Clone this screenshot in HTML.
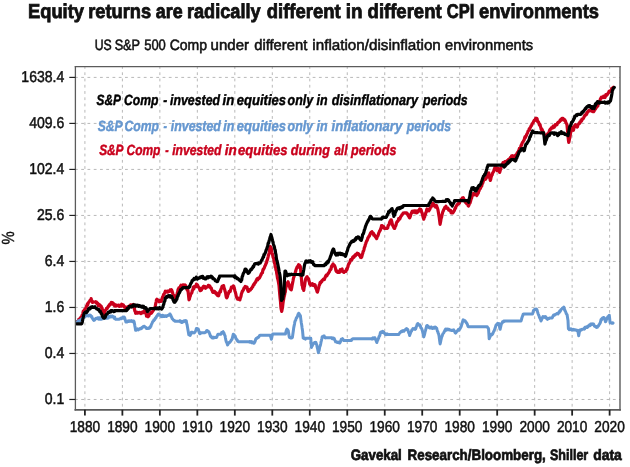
<!DOCTYPE html><html><head><meta charset="utf-8"><style>
html,body{margin:0;padding:0;background:#fff;width:630px;height:467px;overflow:hidden}
svg{display:block;font-family:"Liberation Sans",sans-serif;will-change:transform;text-rendering:geometricPrecision}
</style></head><body>
<svg width="630" height="467" viewBox="0 0 630 467">
<g font-size="20" fill="#111" stroke="#111" stroke-width="0.8" font-weight="bold"><text id="title0" x="27.98" y="18" textLength="56.02" lengthAdjust="spacingAndGlyphs">Equity</text><text id="title1" x="88.18" y="18" textLength="62.85" lengthAdjust="spacingAndGlyphs">returns</text><text id="title2" x="155.76" y="18" textLength="26.84" lengthAdjust="spacingAndGlyphs">are</text><text id="title3" x="186.98" y="18" textLength="73.65" lengthAdjust="spacingAndGlyphs">radically</text><text id="title4" x="266.78" y="18" textLength="73.86" lengthAdjust="spacingAndGlyphs">different</text><text id="title5" x="345.71" y="18" textLength="16.75" lengthAdjust="spacingAndGlyphs">in</text><text id="title6" x="367.58" y="18" textLength="74.02" lengthAdjust="spacingAndGlyphs">different</text><text id="title7" x="446.74" y="18" textLength="27.49" lengthAdjust="spacingAndGlyphs">CPI</text><text id="title8" x="479.00" y="18" textLength="120.00" lengthAdjust="spacingAndGlyphs">environments</text></g>
<g font-size="15.0" fill="#111" stroke="#111" stroke-width="0.55"><text id="sub0" x="94.71" y="50" textLength="17.00" lengthAdjust="spacingAndGlyphs">US</text><text id="sub1" x="114.65" y="50" textLength="25.44" lengthAdjust="spacingAndGlyphs">S&amp;P</text><text id="sub2" x="144.15" y="50" textLength="21.71" lengthAdjust="spacingAndGlyphs">500</text><text id="sub3" x="169.71" y="50" textLength="37.36" lengthAdjust="spacingAndGlyphs">Comp</text><text id="sub4" x="210.58" y="50" textLength="38.44" lengthAdjust="spacingAndGlyphs">under</text><text id="sub5" x="254.19" y="50" textLength="53.05" lengthAdjust="spacingAndGlyphs">different</text><text id="sub6" x="312.39" y="50" textLength="128.43" lengthAdjust="spacingAndGlyphs">inflation/disinflation</text><text id="sub7" x="444.97" y="50" textLength="88.25" lengthAdjust="spacingAndGlyphs">environments</text></g>
<g stroke="#b8b8b8" stroke-width="1.0" stroke-dasharray="2.8 3.455">
<g stroke-dashoffset="0.43"><line x1="75.4" y1="77.40" x2="620.0" y2="77.40"/><line x1="75.4" y1="123.41" x2="620.0" y2="123.41"/><line x1="75.4" y1="169.42" x2="620.0" y2="169.42"/><line x1="75.4" y1="215.43" x2="620.0" y2="215.43"/><line x1="75.4" y1="261.44" x2="620.0" y2="261.44"/><line x1="75.4" y1="307.45" x2="620.0" y2="307.45"/><line x1="75.4" y1="353.46" x2="620.0" y2="353.46"/><line x1="75.4" y1="399.47" x2="620.0" y2="399.47"/></g>
<g stroke-dashoffset="0.55"><line x1="84.90" y1="66.6" x2="84.90" y2="409.8"/><line x1="122.38" y1="66.6" x2="122.38" y2="409.8"/><line x1="159.86" y1="66.6" x2="159.86" y2="409.8"/><line x1="197.34" y1="66.6" x2="197.34" y2="409.8"/><line x1="234.82" y1="66.6" x2="234.82" y2="409.8"/><line x1="272.30" y1="66.6" x2="272.30" y2="409.8"/><line x1="309.78" y1="66.6" x2="309.78" y2="409.8"/><line x1="347.26" y1="66.6" x2="347.26" y2="409.8"/><line x1="384.74" y1="66.6" x2="384.74" y2="409.8"/><line x1="422.22" y1="66.6" x2="422.22" y2="409.8"/><line x1="459.70" y1="66.6" x2="459.70" y2="409.8"/><line x1="497.18" y1="66.6" x2="497.18" y2="409.8"/><line x1="534.66" y1="66.6" x2="534.66" y2="409.8"/><line x1="572.14" y1="66.6" x2="572.14" y2="409.8"/><line x1="609.62" y1="66.6" x2="609.62" y2="409.8"/></g>
</g>
<g font-size="14.8" fill="#000" stroke="#000" stroke-width="0.45" font-weight="bold" font-style="italic"><text id="legk0" x="96.58" y="105" textLength="24.28" lengthAdjust="spacingAndGlyphs">S&amp;P</text><text id="legk1" x="123.96" y="105" textLength="34.47" lengthAdjust="spacingAndGlyphs">Comp</text><text id="legk2" x="163.36" y="105" textLength="3.95" lengthAdjust="spacingAndGlyphs">-</text><text id="legk3" x="170.00" y="105" textLength="50.03" lengthAdjust="spacingAndGlyphs">invested</text><text id="legk4" x="222.56" y="105" textLength="11.74" lengthAdjust="spacingAndGlyphs">in</text><text id="legk5" x="236.76" y="105" textLength="49.29" lengthAdjust="spacingAndGlyphs">equities</text><text id="legk6" x="287.60" y="105" textLength="40.00" lengthAdjust="spacingAndGlyphs">only in</text><text id="legk7" x="331.79" y="105" textLength="86.22" lengthAdjust="spacingAndGlyphs">disinflationary</text><text id="legk8" x="422.98" y="105" textLength="44.64" lengthAdjust="spacingAndGlyphs">periods</text></g>
<g font-size="14.8" fill="#6597d0" stroke="#6597d0" stroke-width="0.45" font-weight="bold" font-style="italic"><text id="legb0" x="97.75" y="131" textLength="24.82" lengthAdjust="spacingAndGlyphs">S&amp;P</text><text id="legb1" x="124.52" y="131" textLength="34.42" lengthAdjust="spacingAndGlyphs">Comp</text><text id="legb2" x="163.49" y="131" textLength="3.49" lengthAdjust="spacingAndGlyphs">-</text><text id="legb3" x="170.84" y="131" textLength="50.03" lengthAdjust="spacingAndGlyphs">invested</text><text id="legb4" x="223.28" y="131" textLength="11.06" lengthAdjust="spacingAndGlyphs">in</text><text id="legb5" x="236.69" y="131" textLength="49.34" lengthAdjust="spacingAndGlyphs">equities</text><text id="legb6" x="287.58" y="131" textLength="39.86" lengthAdjust="spacingAndGlyphs">only in</text><text id="legb7" x="331.58" y="131" textLength="70.65" lengthAdjust="spacingAndGlyphs">inflationary</text><text id="legb8" x="406.75" y="131" textLength="44.25" lengthAdjust="spacingAndGlyphs">periods</text></g>
<g font-size="14.8" fill="#c9001c" stroke="#c9001c" stroke-width="0.45" font-weight="bold" font-style="italic"><text id="legr0" x="99.14" y="155" textLength="24.42" lengthAdjust="spacingAndGlyphs">S&amp;P</text><text id="legr1" x="126.51" y="155" textLength="33.94" lengthAdjust="spacingAndGlyphs">Comp</text><text id="legr2" x="165.15" y="155" textLength="3.43" lengthAdjust="spacingAndGlyphs">-</text><text id="legr3" x="172.17" y="155" textLength="49.29" lengthAdjust="spacingAndGlyphs">invested</text><text id="legr4" x="224.72" y="155" textLength="11.99" lengthAdjust="spacingAndGlyphs">in</text><text id="legr5" x="237.99" y="155" textLength="49.65" lengthAdjust="spacingAndGlyphs">equities</text><text id="legr6" x="290.78" y="155" textLength="39.25" lengthAdjust="spacingAndGlyphs">during</text><text id="legr7" x="334.15" y="155" textLength="13.34" lengthAdjust="spacingAndGlyphs">all</text><text id="legr8" x="350.99" y="155" textLength="45.42" lengthAdjust="spacingAndGlyphs">periods</text></g>
<g fill="none" stroke-linejoin="round" stroke-linecap="round">
<polyline stroke="#c9001c" stroke-width="3.2" points="76.60,322.50 76.96,323.41 77.32,321.39 77.69,321.59 78.05,321.08 78.41,321.08 78.78,319.48 79.14,319.65 79.50,319.50 79.87,318.62 80.23,317.98 80.60,317.64 80.97,317.35 81.33,317.01 81.70,316.70 82.08,315.25 82.47,315.03 82.85,313.55 83.23,311.14 83.62,312.60 84.00,311.00 84.37,310.15 84.73,309.32 85.10,309.25 85.47,308.59 85.83,307.86 86.20,307.20 86.58,305.98 86.97,305.81 87.35,304.10 87.73,304.99 88.12,302.75 88.50,302.70 88.88,302.05 89.26,301.63 89.64,301.20 90.02,300.40 90.40,300.00 90.77,300.55 91.14,298.57 91.51,300.73 91.89,300.98 92.26,301.12 92.63,302.48 93.00,302.00 93.37,302.00 93.73,302.00 94.10,302.00 94.47,302.00 94.83,302.00 95.20,302.00 95.58,301.72 95.97,302.55 96.35,301.81 96.73,303.41 97.12,302.70 97.50,304.00 97.88,303.34 98.25,305.78 98.62,305.14 99.00,305.02 99.38,305.40 99.75,304.78 100.12,305.27 100.50,306.20 100.87,307.00 101.23,306.22 101.60,308.18 101.97,307.70 102.33,309.36 102.70,310.00 103.08,310.43 103.45,313.15 103.83,313.87 104.20,314.50 104.58,313.01 104.95,311.12 105.33,310.61 105.70,310.00 106.08,309.40 106.47,308.37 106.85,308.59 107.23,308.48 107.62,307.40 108.00,307.00 108.37,306.19 108.73,306.36 109.10,305.26 109.47,305.40 109.83,304.25 110.20,304.00 110.56,304.53 110.92,303.17 111.28,302.44 111.64,302.78 112.00,302.50 112.37,302.56 112.74,302.88 113.11,303.81 113.49,304.79 113.86,303.65 114.23,305.32 114.60,305.90 114.96,305.70 115.32,305.66 115.67,306.15 116.03,304.93 116.39,305.99 116.75,305.45 117.11,305.60 117.47,305.38 117.83,305.27 118.18,305.12 118.54,305.61 118.90,305.40 119.26,306.46 119.62,305.83 119.98,305.66 120.33,305.45 120.69,304.82 121.05,305.38 121.41,306.15 121.77,304.23 122.12,305.36 122.48,305.41 122.84,304.95 123.20,304.80 123.56,305.54 123.91,306.24 124.27,307.05 124.62,306.90 124.98,307.46 125.33,307.07 125.69,307.71 126.04,307.70 126.40,308.00 126.76,307.89 127.11,307.24 127.47,307.64 127.82,307.84 128.18,306.71 128.53,306.71 128.89,306.68 129.24,306.11 129.60,305.90 129.96,306.25 130.32,305.73 130.68,304.80 131.04,304.74 131.40,305.58 131.76,305.39 132.12,305.51 132.48,304.90 132.84,304.73 133.20,304.50 133.60,305.07 134.00,308.19 134.40,308.37 134.80,310.92 135.20,311.18 135.60,313.30 136.00,312.78 136.40,313.10 136.80,312.65 137.20,312.36 137.60,313.11 138.00,312.50 138.36,312.95 138.71,312.88 139.07,312.56 139.42,312.38 139.78,312.66 140.13,312.73 140.49,313.09 140.84,313.62 141.20,313.30 141.56,312.93 141.91,312.32 142.27,312.15 142.62,312.93 142.98,312.05 143.33,311.82 143.69,311.58 144.04,311.49 144.40,310.90 144.76,311.59 145.11,312.79 145.47,313.21 145.82,311.82 146.18,313.93 146.53,316.26 146.89,314.54 147.24,315.94 147.60,316.50 148.00,316.69 148.40,315.70 148.80,316.04 149.20,314.20 149.60,313.81 150.00,314.10 150.36,313.65 150.71,313.00 151.07,312.48 151.43,313.04 151.79,312.53 152.14,312.05 152.50,311.70 152.90,310.81 153.30,310.51 153.70,309.63 154.10,308.63 154.50,308.65 154.90,307.70 155.30,305.90 155.70,303.74 156.10,302.08 156.50,299.70 156.90,299.22 157.30,299.89 157.70,299.81 158.10,300.97 158.50,300.65 158.90,300.50 159.30,301.80 159.70,301.63 160.10,300.70 160.50,300.43 160.90,301.43 161.30,301.30 161.70,299.94 162.10,298.81 162.50,297.12 162.90,296.83 163.30,295.40 163.70,294.10 164.10,293.92 164.50,293.47 164.90,292.40 165.30,291.27 165.70,291.95 166.10,291.70 166.46,291.26 166.81,291.23 167.17,291.96 167.52,291.29 167.88,292.09 168.23,291.27 168.59,291.46 168.94,291.27 169.30,290.90 169.70,291.21 170.10,289.94 170.50,291.10 170.90,290.43 171.30,289.70 171.70,290.10 172.10,291.50 172.50,292.42 172.90,294.01 173.30,294.77 173.70,295.63 174.10,296.50 174.50,295.74 174.90,297.69 175.30,297.72 175.70,297.46 176.10,297.42 176.50,297.30 176.90,295.97 177.30,292.82 177.70,291.69 178.10,289.30 178.46,288.95 178.81,288.02 179.17,288.40 179.52,288.03 179.88,288.40 180.23,287.62 180.59,285.85 180.94,285.29 181.30,286.00 181.66,285.88 182.03,285.74 182.39,285.27 182.75,284.91 183.12,285.53 183.48,284.93 183.85,285.11 184.21,285.89 184.57,285.48 184.94,284.86 185.30,285.20 185.69,285.37 186.07,286.67 186.46,288.51 186.84,288.06 187.23,290.08 187.61,289.48 188.00,290.70 188.50,295.13 189.00,299.80 189.42,298.96 189.84,296.93 190.26,296.17 190.68,294.17 191.10,293.70 191.49,293.18 191.88,292.56 192.26,290.68 192.65,290.25 193.04,289.04 193.42,287.19 193.81,289.00 194.20,286.60 194.57,286.70 194.95,286.55 195.32,286.06 195.70,285.70 196.07,286.65 196.45,284.10 196.82,284.68 197.20,284.60 197.59,285.13 197.97,286.01 198.36,287.27 198.75,287.25 199.14,287.68 199.53,288.55 199.91,290.19 200.30,290.70 200.68,290.71 201.05,290.12 201.43,290.04 201.80,288.36 202.18,288.68 202.55,288.00 202.93,287.02 203.30,286.60 203.69,286.31 204.08,287.33 204.46,286.60 204.85,286.94 205.24,286.69 205.62,288.31 206.01,287.45 206.40,287.60 206.78,287.07 207.15,286.96 207.53,286.72 207.90,286.65 208.28,285.41 208.65,285.46 209.03,286.13 209.40,285.60 209.79,286.96 210.18,286.57 210.56,287.95 210.95,288.33 211.34,288.16 211.72,290.00 212.11,290.34 212.50,291.70 212.88,292.30 213.25,291.83 213.62,292.05 214.00,291.39 214.38,292.40 214.75,291.38 215.12,292.69 215.50,292.70 215.89,293.84 216.28,292.81 216.66,294.33 217.05,295.02 217.44,294.53 217.82,295.64 218.21,295.46 218.60,295.80 218.97,294.50 219.35,292.64 219.72,292.13 220.10,290.88 220.47,291.98 220.85,289.79 221.22,288.53 221.60,287.60 222.00,286.46 222.40,287.75 222.80,285.76 223.20,286.82 223.60,285.60 223.99,287.72 224.38,288.69 224.76,289.81 225.15,291.67 225.54,292.49 225.92,295.11 226.31,297.20 226.70,297.80 227.10,297.27 227.50,296.34 227.90,294.35 228.30,293.89 228.70,292.70 229.09,291.50 229.47,291.18 229.86,291.19 230.25,291.53 230.64,289.55 231.03,288.89 231.41,287.19 231.80,287.60 232.20,287.50 232.60,286.70 233.00,286.23 233.40,285.98 233.80,286.60 234.19,288.08 234.58,289.18 234.96,291.17 235.35,292.07 235.74,293.60 236.12,295.81 236.51,296.84 236.90,297.80 237.28,298.47 237.65,299.11 238.03,298.67 238.40,298.25 238.78,298.61 239.15,298.44 239.53,299.74 239.90,299.80 240.28,298.18 240.67,297.28 241.05,296.06 241.43,293.75 241.82,292.90 242.20,291.40 242.58,291.48 242.97,290.21 243.35,290.06 243.73,288.82 244.12,287.79 244.50,287.70 244.87,287.44 245.23,286.39 245.60,287.69 245.97,286.88 246.33,287.78 246.70,286.90 247.07,287.34 247.45,289.22 247.82,290.46 248.20,291.40 248.58,291.04 248.97,291.11 249.35,290.23 249.73,289.81 250.12,289.37 250.50,289.90 250.87,289.09 251.23,288.45 251.60,288.53 251.97,287.70 252.33,287.03 252.70,286.90 253.08,285.88 253.47,284.61 253.85,284.85 254.23,284.66 254.62,283.08 255.00,283.20 255.37,282.31 255.73,282.07 256.10,280.56 256.47,280.31 256.83,279.21 257.20,278.70 257.58,279.93 257.97,279.21 258.35,278.96 258.73,277.79 259.12,278.39 259.50,277.90 259.87,277.06 260.23,276.60 260.60,275.33 260.97,274.99 261.33,273.72 261.70,273.40 262.08,272.70 262.47,272.65 262.85,270.04 263.23,269.20 263.62,269.35 264.00,268.20 264.37,267.78 264.73,266.26 265.10,265.93 265.47,264.97 265.83,264.17 266.20,263.00 266.57,262.64 266.95,260.39 267.32,259.99 267.70,258.50 268.07,257.11 268.45,255.12 268.82,254.28 269.20,252.50 269.60,249.77 270.00,247.67 270.40,246.50 270.77,248.10 271.13,247.88 271.50,249.50 271.88,252.32 272.25,253.83 272.62,254.83 273.00,257.00 273.38,258.01 273.75,258.75 274.12,261.46 274.50,263.00 274.87,263.82 275.23,267.34 275.60,267.26 275.97,269.97 276.33,270.14 276.70,273.40 277.08,275.20 277.47,278.14 277.85,279.15 278.23,280.94 278.62,283.13 279.00,285.40 279.38,290.03 279.76,294.74 280.14,298.52 280.52,301.93 280.90,307.50 281.30,309.67 281.70,311.50 282.10,309.42 282.50,307.54 282.90,303.72 283.30,301.00 283.70,299.09 284.10,296.69 284.50,295.42 284.90,293.00 285.30,291.99 285.70,288.44 286.10,287.04 286.50,285.00 286.90,283.61 287.30,283.01 287.70,282.49 288.10,281.80 288.50,283.47 288.90,284.13 289.30,285.83 289.70,287.40 290.10,288.77 290.50,288.88 290.90,289.59 291.30,289.80 291.72,287.74 292.14,285.13 292.56,283.19 292.98,280.97 293.40,278.40 293.77,277.18 294.14,276.55 294.51,274.76 294.89,274.05 295.26,272.34 295.63,271.52 296.00,269.90 296.37,268.77 296.74,268.10 297.11,267.02 297.49,267.60 297.86,266.47 298.23,265.56 298.60,264.70 299.03,265.47 299.45,265.08 299.88,266.03 300.30,266.40 300.73,270.84 301.15,274.80 301.57,280.42 302.00,285.30 302.43,286.08 302.85,288.65 303.27,288.70 303.70,290.40 304.12,287.47 304.55,285.80 304.97,282.67 305.40,280.10 305.82,278.50 306.25,278.53 306.68,277.12 307.10,276.70 307.46,278.52 307.82,277.82 308.18,278.86 308.54,278.59 308.90,281.00 309.32,281.69 309.75,284.20 310.18,284.15 310.60,285.30 311.03,284.33 311.45,284.61 311.88,283.86 312.30,283.60 312.67,283.82 313.04,285.48 313.41,285.46 313.79,285.47 314.16,285.75 314.53,284.54 314.90,285.30 315.26,285.17 315.61,287.66 315.97,288.43 316.33,289.21 316.69,290.09 317.04,291.53 317.40,292.10 317.77,291.07 318.14,289.56 318.51,288.35 318.89,286.61 319.26,285.17 319.63,284.83 320.00,282.70 320.37,282.19 320.74,283.08 321.11,281.95 321.49,281.25 321.86,281.47 322.23,280.19 322.60,280.10 322.96,279.63 323.31,279.19 323.67,279.03 324.03,279.05 324.39,279.48 324.74,278.25 325.10,277.60 325.47,276.50 325.84,276.13 326.21,275.08 326.59,276.01 326.96,275.59 327.33,274.79 327.70,274.10 328.07,273.70 328.44,273.20 328.81,272.54 329.19,272.06 329.56,271.23 329.93,269.94 330.30,269.90 330.65,269.68 331.00,269.15 331.35,266.73 331.70,266.77 332.05,265.51 332.40,265.68 332.75,264.49 333.10,263.90 333.50,265.23 333.90,265.57 334.30,265.21 334.70,266.00 335.10,267.08 335.50,268.37 335.90,270.37 336.30,271.40 336.66,270.98 337.01,271.87 337.37,270.94 337.72,272.43 338.08,272.22 338.43,271.41 338.79,271.73 339.14,272.37 339.50,272.40 339.87,272.02 340.23,269.72 340.60,270.91 340.97,271.12 341.33,269.48 341.70,269.20 342.05,268.97 342.40,270.95 342.75,270.93 343.10,271.44 343.45,272.21 343.80,272.40 344.22,271.51 344.64,271.62 345.06,271.16 345.48,270.96 345.90,271.40 346.27,270.32 346.63,269.00 347.00,269.60 347.37,268.08 347.73,267.36 348.10,266.00 348.46,264.23 348.83,264.20 349.19,263.40 349.55,262.74 349.91,262.06 350.27,260.52 350.64,259.62 351.00,259.30 351.38,259.46 351.76,259.81 352.13,259.33 352.51,257.63 352.89,256.97 353.27,257.14 353.64,256.92 354.02,257.27 354.40,255.90 354.75,255.51 355.10,254.96 355.45,255.70 355.80,254.45 356.15,254.11 356.50,254.64 356.85,253.97 357.20,253.22 357.55,253.41 357.90,253.30 358.28,253.54 358.66,254.13 359.03,254.31 359.41,255.53 359.79,255.49 360.17,255.83 360.54,257.24 360.92,256.60 361.30,257.60 361.67,256.92 362.04,255.73 362.41,254.13 362.79,253.32 363.16,251.26 363.53,251.14 363.90,249.90 364.26,248.09 364.61,246.96 364.97,246.36 365.33,244.57 365.69,243.83 366.04,242.76 366.40,241.30 366.77,241.14 367.14,240.03 367.51,239.65 367.89,237.90 368.26,237.38 368.63,237.20 369.00,236.10 369.37,236.16 369.74,235.15 370.11,234.00 370.49,233.10 370.86,232.56 371.23,233.12 371.60,231.90 371.96,231.71 372.31,232.48 372.67,233.32 373.03,233.57 373.39,233.29 373.74,235.15 374.10,234.40 374.47,235.10 374.84,235.78 375.21,236.69 375.59,236.68 375.96,237.86 376.33,238.00 376.70,238.70 377.07,237.23 377.44,236.22 377.81,235.99 378.19,234.87 378.56,233.75 378.93,232.61 379.30,231.90 379.67,230.90 380.04,230.63 380.41,229.94 380.79,228.33 381.16,227.76 381.53,225.72 381.90,225.90 382.26,225.62 382.61,226.22 382.97,226.46 383.33,227.71 383.69,226.52 384.04,228.31 384.40,228.40 384.77,228.40 385.14,228.40 385.51,228.40 385.89,228.40 386.26,228.40 386.63,228.40 387.00,228.40 387.37,227.92 387.74,227.91 388.11,225.55 388.49,225.22 388.86,224.93 389.23,223.78 389.60,222.40 390.03,221.25 390.45,220.95 390.88,219.88 391.30,219.90 391.73,221.44 392.15,223.28 392.57,225.15 393.00,225.90 393.43,226.83 393.85,227.64 394.27,228.36 394.70,228.40 395.12,226.67 395.55,226.22 395.97,225.11 396.40,223.30 396.77,222.58 397.14,221.54 397.51,221.54 397.89,220.93 398.26,220.61 398.63,218.62 399.00,219.00 399.37,218.31 399.74,219.15 400.11,218.26 400.49,216.97 400.86,216.41 401.23,215.94 401.60,215.60 401.98,214.60 402.37,214.41 402.75,214.18 403.13,213.07 403.52,213.22 403.90,212.80 404.28,212.80 404.66,212.80 405.04,212.80 405.42,212.80 405.80,212.80 406.18,213.33 406.56,212.85 406.94,213.69 407.32,213.46 407.70,214.70 408.08,215.36 408.46,216.10 408.84,216.33 409.22,217.30 409.60,217.90 410.00,217.18 410.40,216.24 410.80,214.10 411.20,213.64 411.60,212.80 411.96,211.72 412.31,211.18 412.67,212.51 413.03,212.08 413.39,212.07 413.74,211.51 414.10,210.80 414.47,210.81 414.84,211.49 415.21,211.36 415.59,212.69 415.96,210.93 416.33,212.74 416.70,212.80 417.07,212.04 417.44,212.28 417.81,212.09 418.19,210.62 418.56,211.27 418.93,210.66 419.30,209.60 419.68,208.85 420.06,210.85 420.44,209.31 420.82,209.33 421.20,210.20 421.63,212.22 422.07,212.80 422.50,214.70 422.93,216.32 423.37,217.67 423.80,219.20 424.23,217.14 424.67,217.08 425.10,214.70 425.48,214.36 425.86,212.42 426.24,212.09 426.62,210.06 427.00,208.90 427.38,209.42 427.76,209.49 428.14,209.31 428.52,210.23 428.90,210.80 429.28,209.51 429.66,209.51 430.04,208.60 430.42,207.44 430.80,207.00 431.20,206.93 431.60,205.65 432.00,205.67 432.40,203.66 432.80,203.10 433.18,203.53 433.56,203.97 433.94,205.15 434.32,205.57 434.70,206.30 435.08,206.20 435.46,207.03 435.84,206.38 436.22,205.48 436.60,205.70 437.03,207.22 437.47,208.16 437.90,209.60 438.33,212.00 438.77,214.62 439.20,217.30 439.65,220.84 440.10,224.30 440.60,221.76 441.10,218.50 441.53,217.36 441.97,215.12 442.40,213.40 442.83,211.69 443.27,210.87 443.70,209.60 444.08,208.98 444.46,208.41 444.84,207.37 445.22,207.45 445.60,207.00 445.98,206.26 446.36,208.22 446.74,208.19 447.12,208.45 447.50,208.30 447.90,208.17 448.30,209.19 448.70,210.15 449.10,209.70 449.50,210.20 449.88,210.13 450.26,211.18 450.64,210.51 451.02,212.80 451.40,212.80 451.78,212.90 452.16,211.76 452.54,212.77 452.92,212.87 453.30,212.10 453.68,211.64 454.06,210.83 454.44,210.49 454.82,208.94 455.20,208.00 455.55,208.25 455.90,206.84 456.25,206.05 456.60,205.72 456.95,204.80 457.30,205.07 457.65,203.94 458.00,203.80 458.38,203.53 458.75,203.03 459.12,203.27 459.50,202.88 459.88,201.12 460.25,200.86 460.62,200.38 461.00,200.00 461.38,199.11 461.75,199.90 462.12,199.03 462.50,197.80 462.88,198.06 463.25,197.79 463.62,198.57 464.00,199.30 464.38,199.93 464.77,201.40 465.15,200.44 465.53,202.57 465.92,201.60 466.30,203.00 466.67,203.69 467.03,203.36 467.40,204.27 467.77,203.68 468.13,205.83 468.50,206.00 468.88,205.27 469.25,203.93 469.62,202.58 470.00,203.00 470.38,201.71 470.77,200.49 471.15,198.45 471.53,198.27 471.92,196.68 472.30,195.50 472.67,194.62 473.03,194.56 473.40,193.39 473.77,194.90 474.13,194.79 474.50,194.00 474.88,194.14 475.27,193.80 475.65,194.12 476.03,194.83 476.42,194.76 476.80,195.50 477.17,194.90 477.53,193.51 477.90,193.74 478.27,193.15 478.63,191.42 479.00,191.00 479.38,189.80 479.77,187.87 480.15,188.76 480.53,188.20 480.92,186.72 481.30,186.50 481.67,186.11 482.03,184.12 482.40,182.84 482.77,182.95 483.13,181.75 483.50,180.50 483.88,179.11 484.27,179.61 484.65,179.03 485.03,179.37 485.42,179.34 485.80,179.00 486.18,177.99 486.55,177.58 486.93,177.24 487.30,176.00 487.68,175.06 488.05,173.79 488.43,173.20 488.80,173.00 489.18,175.33 489.55,177.69 489.93,178.52 490.30,180.50 490.68,179.40 491.05,177.45 491.43,176.27 491.80,175.30 492.17,174.94 492.53,173.24 492.90,172.74 493.27,171.83 493.63,171.51 494.00,170.00 494.43,168.89 494.87,167.49 495.30,166.30 495.68,167.05 496.05,167.85 496.43,169.63 496.80,170.00 497.20,170.67 497.60,168.12 498.00,168.50 498.43,170.03 498.85,169.90 499.27,171.08 499.70,172.40 500.12,170.80 500.55,169.30 500.97,167.91 501.40,166.70 501.85,165.01 502.30,164.00 502.67,164.73 503.03,162.69 503.40,162.88 503.77,162.57 504.13,162.85 504.50,162.50 504.88,161.53 505.27,161.98 505.65,161.81 506.03,162.56 506.42,161.60 506.80,161.00 507.18,160.68 507.55,160.50 507.93,161.18 508.30,159.83 508.68,159.24 509.05,159.00 509.43,158.87 509.80,158.80 510.17,158.78 510.53,157.24 510.90,156.97 511.27,156.78 511.63,155.78 512.00,155.80 512.37,156.23 512.73,155.73 513.10,156.30 513.47,156.38 513.83,157.00 514.20,157.21 514.57,155.86 514.93,155.69 515.30,156.50 515.67,155.19 516.03,155.42 516.40,154.78 516.77,153.82 517.13,153.14 517.50,152.50 517.88,152.66 518.27,151.65 518.65,150.62 519.03,150.17 519.42,148.34 519.80,148.50 520.17,148.31 520.53,147.96 520.90,146.07 521.27,144.92 521.63,145.01 522.00,143.50 522.38,142.56 522.77,142.21 523.15,141.83 523.53,140.74 523.92,140.55 524.30,139.50 524.67,137.69 525.03,136.66 525.40,137.65 525.77,136.79 526.13,135.87 526.50,135.00 526.88,133.95 527.27,133.36 527.65,132.74 528.03,131.04 528.42,130.97 528.80,130.00 529.17,128.89 529.53,129.77 529.90,128.15 530.27,127.41 530.63,127.14 531.00,125.90 531.38,125.78 531.75,125.14 532.12,123.63 532.50,123.43 532.88,123.20 533.25,122.20 533.62,121.50 534.00,120.80 534.40,120.11 534.80,120.14 535.20,120.41 535.60,118.61 536.00,118.14 536.40,118.50 536.75,118.43 537.10,118.82 537.45,120.95 537.80,121.86 538.15,121.69 538.50,122.00 538.88,122.97 539.27,124.59 539.65,125.33 540.03,124.43 540.42,126.55 540.80,127.50 541.17,129.51 541.53,128.62 541.90,129.11 542.27,129.83 542.63,131.69 543.00,131.50 543.40,132.06 543.80,133.33 544.20,134.56 544.60,134.80 545.00,135.50 545.47,136.18 545.93,136.27 546.40,137.50 546.80,135.83 547.20,136.09 547.60,133.80 548.00,133.50 548.38,133.34 548.75,132.68 549.12,132.07 549.50,130.50 549.86,129.90 550.22,129.04 550.58,129.06 550.94,129.21 551.30,128.00 551.67,128.13 552.03,127.93 552.40,127.44 552.77,127.84 553.13,126.11 553.50,127.00 553.86,126.08 554.21,127.28 554.57,126.40 554.93,126.24 555.29,124.54 555.64,124.83 556.00,125.00 556.35,124.40 556.70,124.21 557.05,124.54 557.40,123.21 557.75,123.22 558.10,122.39 558.45,122.29 558.80,122.25 559.15,121.90 559.50,121.30 559.88,121.47 560.25,119.87 560.62,120.60 561.00,120.05 561.38,119.00 561.75,119.76 562.12,118.31 562.50,118.30 562.88,118.35 563.27,119.09 563.65,119.82 564.03,119.08 564.42,120.36 564.80,119.80 565.17,120.89 565.53,121.12 565.90,122.80 566.27,123.30 566.63,123.74 567.00,125.00 567.50,130.42 568.00,136.00 568.40,139.88 568.80,142.40 569.15,140.89 569.50,138.87 569.85,137.74 570.20,135.60 570.60,132.72 571.00,131.71 571.40,129.95 571.80,127.10 572.20,127.27 572.60,128.10 573.00,129.04 573.40,130.30 573.80,128.84 574.20,127.19 574.60,126.24 575.00,124.90 575.35,124.73 575.70,125.79 576.05,126.31 576.40,126.61 576.75,126.43 577.10,127.10 577.50,126.76 577.90,124.66 578.30,124.35 578.70,123.90 579.07,123.33 579.43,123.53 579.80,122.09 580.17,122.10 580.53,122.12 580.90,120.70 581.25,121.41 581.60,120.91 581.95,119.17 582.30,119.38 582.65,119.14 583.00,118.50 583.37,118.34 583.73,117.72 584.10,116.84 584.47,116.40 584.83,115.09 585.20,115.30 585.56,115.22 585.91,114.52 586.27,113.56 586.62,114.37 586.98,112.92 587.33,112.09 587.69,112.28 588.04,111.72 588.40,111.00 588.75,111.19 589.10,110.62 589.45,110.92 589.80,110.40 590.15,110.83 590.50,110.00 590.86,110.36 591.21,109.92 591.57,109.99 591.92,111.03 592.28,111.40 592.63,110.28 592.99,111.58 593.34,111.39 593.70,111.60 594.06,111.24 594.42,110.13 594.78,109.44 595.14,109.21 595.50,109.00 595.90,107.93 596.30,107.50 596.70,107.14 597.10,106.47 597.50,105.80 597.88,105.88 598.25,103.40 598.62,102.72 599.00,102.00 599.47,101.09 599.93,100.41 600.40,99.10 600.87,98.01 601.33,97.26 601.80,97.50 602.17,97.56 602.53,97.55 602.90,97.57 603.27,97.52 603.63,96.26 604.00,97.00 604.37,97.37 604.73,96.51 605.10,97.49 605.47,95.93 605.83,94.76 606.20,95.70 606.60,95.16 607.00,94.84 607.40,94.43 607.80,93.89 608.20,93.00 608.60,92.80 609.00,91.51 609.40,91.91 609.80,91.43 610.20,90.85 610.60,90.84 611.00,90.40 611.40,89.73 611.80,88.28 612.20,88.40 612.60,87.89 613.00,87.68 613.40,87.30"/>
<polyline stroke="#6597d0" stroke-width="3.0" points="76.80,322.10 77.19,321.90 77.57,322.08 77.96,321.09 78.34,321.53 78.73,320.87 79.11,320.64 79.50,320.50 79.86,320.93 80.21,320.09 80.57,319.78 80.92,319.82 81.28,319.73 81.63,319.09 81.99,319.07 82.34,318.29 82.70,318.40 83.06,317.99 83.41,317.69 83.77,317.10 84.12,316.76 84.48,316.44 84.83,316.65 85.19,316.40 85.54,316.07 85.90,315.90 86.32,315.88 86.74,315.35 87.16,315.75 87.58,315.82 88.00,315.70 88.38,316.00 88.75,315.48 89.12,315.67 89.50,315.14 89.88,315.71 90.25,315.16 90.62,315.47 91.00,316.00 91.40,317.01 91.80,316.49 92.20,318.17 92.60,318.63 93.00,319.03 93.40,319.93 93.80,320.40 94.17,320.27 94.54,320.14 94.91,319.38 95.29,318.94 95.66,318.62 96.03,318.17 96.40,318.20 96.76,318.23 97.12,318.02 97.48,318.72 97.83,317.75 98.19,318.07 98.55,318.17 98.91,317.82 99.27,319.27 99.62,317.81 99.98,318.60 100.34,318.57 100.70,318.80 101.06,319.31 101.41,317.97 101.77,318.98 102.12,318.28 102.48,318.41 102.83,318.17 103.19,318.56 103.54,317.87 103.90,318.20 104.26,318.20 104.61,318.20 104.97,318.20 105.32,318.20 105.68,318.20 106.03,318.20 106.39,318.20 106.74,318.20 107.10,318.20 107.47,317.91 107.83,317.79 108.20,318.04 108.57,316.29 108.93,317.40 109.30,316.60 109.66,316.88 110.01,316.32 110.37,316.54 110.72,316.21 111.08,316.90 111.43,316.34 111.79,316.14 112.14,316.08 112.50,316.10 112.86,316.39 113.21,316.75 113.57,316.86 113.92,318.24 114.28,317.21 114.63,316.97 114.99,318.55 115.34,318.89 115.70,319.30 116.06,319.30 116.41,319.30 116.77,319.30 117.12,319.30 117.48,319.30 117.83,319.30 118.19,319.30 118.54,319.30 118.90,319.30 119.26,319.25 119.61,318.87 119.97,318.71 120.32,318.71 120.68,318.75 121.03,318.08 121.39,317.93 121.74,318.56 122.10,317.70 122.47,317.79 122.83,317.16 123.20,318.21 123.57,317.57 123.93,316.99 124.30,317.10 124.70,317.91 125.10,319.65 125.50,320.48 125.90,322.00 126.27,321.52 126.64,321.33 127.01,321.49 127.38,321.95 127.75,321.30 128.12,320.83 128.49,321.46 128.86,321.14 129.23,321.31 129.60,320.90 129.97,321.35 130.33,320.91 130.70,320.95 131.07,321.02 131.43,320.67 131.80,321.33 132.17,321.61 132.53,321.23 132.90,321.12 133.27,321.14 133.63,320.99 134.00,321.30 134.40,323.24 134.80,325.61 135.20,327.68 135.60,330.20 135.96,329.96 136.31,329.47 136.67,330.06 137.02,329.86 137.38,329.35 137.73,328.86 138.09,329.58 138.44,329.88 138.80,329.40 139.16,328.97 139.51,328.88 139.87,328.67 140.22,328.92 140.58,328.19 140.93,328.68 141.29,328.05 141.64,328.30 142.00,327.80 142.40,327.54 142.80,327.19 143.20,326.48 143.60,326.49 144.00,326.38 144.40,326.20 144.80,326.83 145.20,327.09 145.60,327.16 146.00,327.94 146.40,328.55 146.80,328.60 147.16,328.46 147.51,328.27 147.87,328.20 148.22,328.53 148.58,328.34 148.93,327.74 149.29,328.11 149.64,327.72 150.00,327.80 150.36,326.72 150.71,326.61 151.07,325.64 151.43,324.29 151.79,323.76 152.14,323.09 152.50,322.10 152.86,321.43 153.21,321.17 153.57,321.00 153.92,319.70 154.28,319.99 154.63,319.69 154.99,319.17 155.34,318.07 155.70,318.10 156.10,317.54 156.50,316.46 156.90,316.30 157.30,315.64 157.70,314.84 158.10,314.10 158.46,314.01 158.81,314.25 159.17,314.93 159.52,314.50 159.88,315.16 160.23,315.35 160.59,315.25 160.94,316.36 161.30,315.70 161.66,315.81 162.01,316.63 162.37,315.26 162.72,315.27 163.08,316.49 163.43,316.46 163.79,316.21 164.14,316.39 164.50,316.50 164.86,315.75 165.21,316.10 165.57,315.87 165.92,316.07 166.28,316.37 166.63,315.99 166.99,316.01 167.34,315.54 167.70,315.70 168.10,315.28 168.50,315.21 168.90,314.80 169.30,315.08 169.70,314.06 170.10,314.10 170.50,315.56 170.90,315.36 171.30,316.87 171.70,317.03 172.10,318.68 172.50,318.90 172.90,319.35 173.30,319.84 173.70,320.36 174.10,320.28 174.50,320.54 174.90,321.30 175.27,321.30 175.64,321.30 176.01,321.30 176.38,321.30 176.75,321.30 177.12,321.30 177.48,321.30 177.85,321.30 178.22,321.30 178.59,321.30 178.96,321.30 179.33,321.30 179.70,321.30 180.07,320.68 180.43,321.90 180.80,321.32 181.17,321.45 181.53,321.73 181.90,322.53 182.27,321.32 182.63,322.10 183.00,322.10 183.38,321.69 183.77,321.75 184.15,320.67 184.53,320.89 184.92,321.06 185.30,320.50 185.80,321.25 186.30,320.90 186.70,323.56 187.10,324.80 187.50,327.20 187.93,329.75 188.37,332.23 188.80,334.80 189.23,334.55 189.67,334.76 190.10,335.50 190.50,334.70 190.90,333.45 191.30,332.30 191.67,332.34 192.04,332.90 192.41,332.21 192.79,332.83 193.16,332.73 193.53,332.79 193.90,332.90 194.33,332.67 194.77,332.16 195.20,331.70 195.60,330.73 196.00,329.66 196.40,328.50 196.78,329.30 197.16,328.63 197.54,329.21 197.92,329.19 198.30,329.10 198.73,330.48 199.17,332.38 199.60,333.60 199.98,333.12 200.36,333.65 200.74,332.78 201.12,332.71 201.50,332.70 201.86,332.70 202.21,332.70 202.57,332.70 202.92,332.70 203.28,332.70 203.63,332.70 203.99,332.70 204.34,332.70 204.70,332.70 205.06,332.48 205.41,332.33 205.77,332.03 206.13,331.70 206.49,330.98 206.84,330.39 207.20,330.40 207.58,330.97 207.96,331.27 208.34,331.21 208.72,332.26 209.10,332.30 209.53,333.64 209.97,334.50 210.40,336.10 210.78,336.63 211.16,336.40 211.54,336.93 211.92,337.76 212.30,338.00 212.66,337.37 213.01,337.84 213.37,337.27 213.73,337.92 214.09,337.32 214.44,337.55 214.80,337.40 215.18,337.40 215.56,337.40 215.94,337.40 216.32,337.40 216.70,337.40 217.13,335.81 217.57,335.15 218.00,334.20 218.37,334.20 218.74,334.20 219.11,334.20 219.49,334.20 219.86,334.20 220.23,334.20 220.60,334.20 220.96,334.17 221.31,333.65 221.67,332.49 222.03,333.09 222.39,332.73 222.74,331.93 223.10,331.70 223.48,332.96 223.86,332.85 224.24,333.95 224.62,335.13 225.00,335.50 225.43,338.06 225.87,340.15 226.30,341.80 226.70,342.48 227.10,343.31 227.50,345.00 227.88,344.64 228.26,343.50 228.64,343.45 229.02,342.55 229.40,342.50 229.77,342.41 230.14,341.87 230.51,341.32 230.89,340.68 231.26,340.23 231.63,339.65 232.00,339.30 232.43,337.73 232.87,335.99 233.30,334.20 233.68,334.74 234.06,334.81 234.44,336.00 234.82,335.82 235.20,336.10 235.60,337.65 236.00,338.70 236.40,339.30 236.78,339.49 237.16,339.71 237.54,341.24 237.92,341.16 238.30,341.80 238.68,341.80 239.06,341.80 239.44,341.80 239.82,341.80 240.20,341.80 240.58,341.80 240.96,341.80 241.34,341.80 241.72,341.80 242.10,341.80 242.46,341.80 242.81,341.80 243.17,341.80 243.52,341.80 243.88,341.80 244.23,341.80 244.59,341.80 244.94,341.80 245.30,341.80 245.66,341.80 246.01,341.80 246.37,341.80 246.72,341.80 247.08,341.80 247.43,341.80 247.79,341.80 248.14,341.80 248.50,341.80 248.86,341.91 249.21,341.86 249.57,342.08 249.92,341.69 250.28,342.15 250.63,342.10 250.99,342.34 251.34,341.60 251.70,342.50 252.06,342.87 252.41,342.79 252.77,342.15 253.13,342.59 253.49,342.94 253.84,343.23 254.20,343.10 254.58,342.22 254.96,341.82 255.34,340.47 255.72,339.23 256.10,338.70 256.48,338.20 256.86,338.44 257.24,337.71 257.62,337.95 258.00,337.40 258.38,337.32 258.76,336.73 259.14,336.44 259.52,335.58 259.90,335.20 260.26,335.20 260.61,335.20 260.97,335.20 261.32,335.20 261.68,335.20 262.03,335.20 262.39,335.20 262.74,335.20 263.10,335.20 263.45,335.20 263.81,335.20 264.16,335.20 264.52,335.20 264.87,335.20 265.23,335.20 265.58,335.20 265.94,335.20 266.29,335.20 266.65,335.20 267.00,335.20 267.36,335.20 267.71,335.20 268.07,335.20 268.42,335.20 268.78,335.20 269.13,335.20 269.49,335.20 269.84,335.20 270.20,335.20 270.60,336.56 271.00,337.73 271.40,339.30 271.83,337.32 272.27,335.22 272.70,334.00 273.05,334.00 273.41,334.00 273.76,334.00 274.11,334.00 274.46,334.00 274.82,334.00 275.17,334.00 275.52,334.00 275.88,334.00 276.23,334.00 276.58,334.00 276.93,334.00 277.29,334.00 277.64,334.00 277.99,334.00 278.34,334.00 278.70,334.00 279.05,334.00 279.40,334.00 279.76,334.00 280.11,334.00 280.46,334.00 280.81,334.00 281.17,334.00 281.52,334.00 281.87,334.00 282.22,334.00 282.58,334.00 282.93,334.00 283.28,334.00 283.64,334.00 283.99,334.00 284.34,334.00 284.69,334.00 285.05,334.00 285.40,334.00 285.77,332.58 286.15,331.18 286.52,329.83 286.90,329.10 287.33,329.58 287.77,330.13 288.20,330.40 288.70,333.43 289.20,336.70 289.58,337.44 289.96,337.55 290.34,337.85 290.72,337.53 291.10,338.00 291.53,337.28 291.97,337.80 292.40,337.40 292.83,334.34 293.27,331.32 293.70,327.90 294.10,325.91 294.50,324.07 294.90,321.50 295.28,320.64 295.66,320.21 296.04,318.91 296.42,317.65 296.80,317.70 297.18,316.66 297.56,316.46 297.94,314.47 298.32,314.54 298.70,313.30 299.12,313.69 299.55,314.41 299.97,315.19 300.40,315.80 300.85,319.37 301.30,322.80 301.70,324.99 302.10,327.91 302.50,330.40 303.20,338.00 303.56,338.20 303.91,338.38 304.27,337.86 304.63,338.71 304.99,338.88 305.34,339.10 305.70,338.30 306.06,338.30 306.43,338.30 306.79,338.30 307.16,338.30 307.52,338.30 307.89,338.30 308.25,338.30 308.61,338.30 308.98,338.30 309.34,338.30 309.71,338.30 310.07,338.30 310.44,338.30 310.80,338.30 311.40,347.50 311.78,346.27 312.16,346.04 312.54,344.57 312.92,344.59 313.30,343.70 313.67,343.72 314.04,342.95 314.41,342.63 314.79,343.08 315.16,343.06 315.53,342.39 315.90,342.50 316.30,343.88 316.70,344.55 317.10,346.90 317.53,348.55 317.97,350.75 318.40,352.60 318.78,351.25 319.16,350.35 319.54,348.00 319.92,346.21 320.30,345.60 320.68,343.98 321.06,341.83 321.44,340.36 321.82,338.73 322.20,336.70 322.63,336.71 323.07,336.80 323.50,336.10 323.86,336.82 324.21,336.00 324.57,336.81 324.93,337.77 325.29,337.17 325.64,337.90 326.00,337.80 326.36,337.80 326.73,337.80 327.09,337.80 327.46,337.80 327.82,337.80 328.19,337.80 328.55,337.80 328.91,337.80 329.28,337.80 329.64,337.80 330.01,337.80 330.37,337.80 330.74,337.80 331.10,337.80 331.46,337.88 331.81,337.85 332.17,338.65 332.52,338.56 332.88,338.21 333.23,338.72 333.59,338.04 333.94,338.35 334.30,338.70 334.73,340.05 335.17,340.78 335.60,341.80 335.97,341.49 336.33,342.07 336.70,342.09 337.07,342.48 337.43,342.43 337.80,342.05 338.17,342.04 338.53,342.22 338.90,342.24 339.27,342.90 339.63,343.00 340.00,342.50 340.43,341.91 340.87,340.50 341.30,339.30 341.70,339.01 342.10,339.22 342.50,338.70 342.93,339.21 343.37,340.05 343.80,340.60 344.16,340.60 344.52,340.60 344.89,340.60 345.25,340.60 345.61,340.60 345.97,340.60 346.33,340.60 346.70,340.60 347.06,340.60 347.42,340.60 347.78,340.60 348.14,340.60 348.50,340.60 348.87,340.60 349.23,340.60 349.59,340.60 349.95,340.60 350.31,340.60 350.68,340.60 351.04,340.60 351.40,340.60 351.83,339.38 352.27,339.19 352.70,338.70 353.05,338.70 353.40,338.70 353.76,338.70 354.11,338.70 354.46,338.70 354.81,338.70 355.16,338.70 355.51,338.70 355.87,338.70 356.22,338.70 356.57,338.70 356.92,338.70 357.27,338.70 357.63,338.70 357.98,338.70 358.33,338.70 358.68,338.70 359.03,338.70 359.39,338.70 359.74,338.70 360.09,338.70 360.44,338.70 360.79,338.70 361.14,338.70 361.50,338.70 361.85,338.70 362.20,338.70 362.55,338.70 362.90,338.70 363.26,338.70 363.61,338.70 363.96,338.70 364.31,338.70 364.66,338.70 365.01,338.70 365.37,338.70 365.72,338.70 366.07,338.70 366.42,338.70 366.77,338.70 367.13,338.70 367.48,338.70 367.83,338.70 368.18,338.70 368.53,338.70 368.89,338.70 369.24,338.70 369.59,338.70 369.94,338.70 370.29,338.70 370.64,338.70 371.00,338.70 371.35,338.70 371.70,338.70 372.06,339.10 372.41,338.14 372.77,337.88 373.12,338.24 373.48,338.78 373.83,338.61 374.19,337.87 374.54,337.73 374.90,337.80 375.28,338.70 375.66,339.35 376.04,340.63 376.42,341.45 376.80,342.50 377.18,341.08 377.56,340.50 377.94,339.71 378.32,338.60 378.70,338.00 379.08,336.47 379.46,336.04 379.84,335.24 380.22,333.34 380.60,332.30 380.97,332.07 381.34,332.30 381.71,331.96 382.09,331.68 382.46,332.36 382.83,331.42 383.20,331.70 383.58,331.94 383.96,332.47 384.34,332.89 384.72,333.62 385.10,334.20 385.46,334.43 385.81,334.77 386.17,334.53 386.52,334.35 386.88,333.93 387.23,334.38 387.59,334.10 387.94,334.43 388.30,334.50 388.66,334.50 389.02,334.50 389.38,334.50 389.74,334.50 390.10,334.50 390.46,334.50 390.82,334.50 391.19,334.50 391.55,334.50 391.91,334.50 392.27,334.50 392.63,334.50 392.99,334.50 393.35,334.50 393.71,334.50 394.07,334.50 394.43,334.50 394.79,334.50 395.15,334.50 395.51,334.50 395.88,334.50 396.24,334.50 396.60,334.50 396.96,334.50 397.32,334.50 397.68,334.50 398.04,334.50 398.40,334.50 398.77,334.44 399.14,333.77 399.51,333.23 399.89,332.64 400.26,332.49 400.63,332.14 401.00,331.70 401.36,331.28 401.71,331.32 402.07,331.71 402.43,330.72 402.79,331.04 403.14,330.69 403.50,331.00 403.86,331.27 404.21,330.67 404.57,330.37 404.93,330.05 405.29,329.74 405.64,329.47 406.00,329.10 406.38,328.69 406.76,329.47 407.14,329.73 407.52,329.16 407.90,329.80 408.32,331.51 408.75,332.88 409.18,333.54 409.60,335.50 409.98,334.38 410.35,333.49 410.73,332.47 411.10,331.70 411.48,331.20 411.86,329.97 412.24,329.70 412.62,329.22 413.00,328.50 413.37,328.84 413.74,328.69 414.11,328.67 414.49,329.08 414.86,328.23 415.23,329.34 415.60,329.10 415.98,327.97 416.36,326.62 416.74,325.89 417.12,324.38 417.50,324.00 417.86,323.50 418.21,324.31 418.57,324.37 418.93,325.11 419.29,324.76 419.64,324.83 420.00,325.50 420.38,325.92 420.76,327.62 421.14,327.79 421.52,328.33 421.90,329.30 422.28,330.47 422.66,331.96 423.04,333.80 423.42,335.53 423.80,336.90 424.23,335.60 424.67,333.90 425.10,331.80 425.48,330.64 425.86,329.05 426.24,327.72 426.62,325.95 427.00,325.50 427.38,325.52 427.76,326.41 428.14,326.52 428.52,327.15 428.90,327.40 429.28,326.99 429.66,327.83 430.04,327.68 430.42,327.65 430.80,327.84 431.18,326.98 431.56,327.62 431.94,327.57 432.32,328.57 432.70,328.00 433.06,327.87 433.41,327.69 433.77,328.10 434.12,327.36 434.48,328.16 434.83,327.35 435.19,327.51 435.54,327.15 435.90,327.40 436.30,328.52 436.70,328.31 437.10,329.90 437.48,331.28 437.86,331.89 438.24,333.34 438.62,334.06 439.00,335.60 439.37,338.45 439.73,341.20 440.10,343.90 440.48,342.36 440.85,340.51 441.23,338.87 441.60,336.90 441.98,336.49 442.36,335.24 442.74,334.21 443.12,333.41 443.50,333.10 443.88,332.58 444.26,331.45 444.64,331.19 445.02,330.08 445.40,329.30 445.78,328.97 446.16,329.66 446.54,330.04 446.92,329.32 447.30,329.07 447.68,329.12 448.06,329.75 448.44,329.26 448.82,329.34 449.20,329.50 449.56,329.90 449.91,329.82 450.27,330.01 450.63,329.94 450.99,330.06 451.34,330.50 451.70,330.60 452.10,330.51 452.50,330.53 452.90,330.01 453.30,330.16 453.70,329.90 454.08,330.71 454.46,331.21 454.84,332.02 455.22,332.81 455.60,333.10 455.96,332.71 456.31,332.21 456.67,331.39 457.03,331.39 457.39,330.78 457.74,330.25 458.10,329.90 458.48,329.37 458.86,329.62 459.24,330.08 459.62,329.09 460.00,328.70 460.43,327.86 460.87,327.12 461.30,326.10 461.68,324.63 462.06,323.61 462.44,322.09 462.82,320.84 463.20,319.80 463.58,320.12 463.96,320.36 464.34,320.48 464.72,320.48 465.10,321.00 465.48,321.61 465.86,321.66 466.24,322.83 466.62,322.96 467.00,323.60 467.43,324.63 467.87,325.94 468.30,326.70 468.65,326.70 469.00,326.70 469.36,326.70 469.71,326.70 470.06,326.70 470.41,326.70 470.76,326.70 471.11,326.70 471.47,326.70 471.82,326.70 472.17,326.70 472.52,326.70 472.87,326.70 473.23,326.70 473.58,326.70 473.93,326.70 474.28,326.70 474.63,326.70 474.99,326.70 475.34,326.70 475.69,326.70 476.04,326.70 476.39,326.70 476.74,326.70 477.10,326.70 477.45,326.70 477.80,326.70 478.15,326.70 478.50,326.70 478.86,326.70 479.21,326.70 479.56,326.70 479.91,326.70 480.26,326.70 480.61,326.70 480.97,326.70 481.32,326.70 481.67,326.70 482.02,326.70 482.37,326.70 482.73,326.70 483.08,326.70 483.43,326.70 483.78,326.70 484.13,326.70 484.49,326.70 484.84,326.70 485.19,326.70 485.54,326.70 485.89,326.70 486.24,326.70 486.60,326.70 486.95,326.70 487.30,326.70 487.73,327.76 488.17,327.98 488.60,329.30 489.20,338.80 489.63,337.65 490.07,336.80 490.50,335.60 490.88,334.98 491.26,334.28 491.64,334.85 492.02,334.62 492.40,334.40 492.76,333.74 493.11,332.80 493.47,332.00 493.83,331.23 494.19,330.81 494.54,329.68 494.90,328.70 495.33,327.59 495.77,325.96 496.20,324.80 496.57,325.02 496.94,324.39 497.31,324.54 497.69,323.38 498.06,324.03 498.43,323.74 498.80,323.60 499.23,325.34 499.67,327.85 500.10,329.30 500.50,327.74 500.90,325.85 501.30,324.20 501.73,323.18 502.17,323.19 502.60,321.70 502.98,321.82 503.36,321.65 503.74,321.01 504.12,321.60 504.50,321.00 504.85,321.00 505.20,321.00 505.55,321.00 505.90,321.00 506.26,321.00 506.61,321.00 506.96,321.00 507.31,321.00 507.66,321.00 508.01,321.00 508.36,321.00 508.71,321.00 509.06,321.00 509.41,321.00 509.77,321.00 510.12,321.00 510.47,321.00 510.82,321.00 511.17,321.00 511.52,321.00 511.87,321.00 512.22,321.00 512.57,321.00 512.93,321.00 513.28,321.00 513.63,321.00 513.98,321.00 514.33,321.00 514.68,321.00 515.03,321.00 515.38,321.00 515.73,321.00 516.09,321.00 516.44,321.00 516.79,321.00 517.14,321.00 517.49,321.00 517.84,321.00 518.19,321.00 518.54,321.00 518.89,321.00 519.24,321.00 519.60,321.00 519.95,321.00 520.30,321.00 520.65,321.00 521.00,321.00 521.43,319.73 521.87,317.97 522.30,316.60 522.73,315.70 523.17,314.30 523.60,314.00 523.96,314.00 524.31,314.00 524.67,314.00 525.02,314.00 525.38,314.00 525.74,314.00 526.09,314.00 526.45,314.00 526.80,314.00 527.16,314.00 527.52,314.00 527.87,314.00 528.23,314.00 528.58,314.00 528.94,314.00 529.30,314.00 529.65,314.00 530.01,314.00 530.36,314.00 530.72,314.00 531.08,314.00 531.43,314.00 531.79,314.00 532.14,314.00 532.50,314.00 532.90,312.96 533.30,311.09 533.70,310.20 534.08,310.25 534.46,309.57 534.84,309.26 535.22,309.37 535.60,309.00 536.03,309.27 536.47,309.01 536.90,309.60 537.33,311.04 537.77,312.75 538.20,314.00 538.60,314.98 539.00,315.66 539.40,317.20 539.80,318.07 540.20,318.76 540.60,319.85 541.00,321.00 541.40,320.07 541.80,319.08 542.20,318.08 542.60,317.20 542.97,316.54 543.34,317.15 543.71,316.87 544.09,316.72 544.46,316.83 544.83,317.36 545.20,316.60 545.58,316.65 545.96,317.04 546.34,318.37 546.72,318.32 547.10,319.10 547.46,319.38 547.81,318.41 548.17,318.42 548.53,318.71 548.89,318.56 549.24,318.23 549.60,317.90 549.96,317.90 550.31,317.90 550.67,317.90 551.03,317.90 551.39,317.90 551.74,317.90 552.10,317.90 552.53,317.19 552.97,316.12 553.40,315.30 553.77,314.96 554.14,314.86 554.51,315.19 554.89,314.80 555.26,314.38 555.63,314.30 556.00,314.00 556.36,314.12 556.71,314.07 557.07,313.44 557.43,313.29 557.79,313.26 558.14,313.88 558.50,312.80 558.88,312.50 559.26,312.48 559.64,311.13 560.02,311.58 560.40,310.90 560.78,309.89 561.16,309.48 561.54,309.12 561.92,308.77 562.30,308.30 562.67,308.06 563.05,307.83 563.42,307.48 563.80,307.10 564.22,308.05 564.65,310.20 565.08,310.54 565.50,311.50 565.90,312.53 566.30,313.80 566.70,314.24 567.10,314.70 567.55,317.75 568.00,320.40 568.40,328.70 568.77,328.96 569.15,329.65 569.52,328.77 569.90,329.30 570.28,329.03 570.66,329.47 571.04,328.77 571.42,329.27 571.80,329.99 572.18,329.50 572.56,329.78 572.94,330.02 573.32,329.44 573.70,329.90 574.06,330.03 574.43,329.75 574.79,329.63 575.15,329.95 575.52,330.06 575.88,329.98 576.25,329.93 576.61,330.52 576.97,330.63 577.34,330.46 577.70,330.30 578.20,332.97 578.70,335.70 579.07,333.53 579.43,331.82 579.80,330.30 580.19,329.77 580.57,330.09 580.96,330.19 581.34,330.04 581.73,329.58 582.11,329.31 582.50,329.30 582.86,329.18 583.21,328.99 583.57,328.97 583.92,329.10 584.28,328.17 584.63,328.96 584.99,327.33 585.34,327.26 585.70,327.70 586.09,326.95 586.47,326.89 586.86,326.93 587.24,327.50 587.63,326.31 588.01,326.71 588.40,326.10 588.79,325.66 589.17,325.52 589.56,324.80 589.94,325.63 590.33,324.52 590.71,324.00 591.10,323.90 591.45,324.72 591.80,324.03 592.15,324.14 592.50,323.98 592.85,323.78 593.20,324.10 593.62,324.10 594.04,325.04 594.46,326.16 594.88,326.25 595.30,326.60 595.67,326.62 596.03,327.13 596.40,326.53 596.77,327.41 597.13,327.01 597.50,327.10 597.85,326.28 598.20,326.27 598.55,325.68 598.90,324.85 599.25,324.51 599.60,323.90 599.97,323.36 600.33,322.62 600.70,320.96 601.07,319.45 601.43,320.19 601.80,318.60 602.15,318.33 602.50,318.09 602.85,318.20 603.20,317.72 603.55,318.04 603.90,317.50 604.30,318.14 604.70,319.58 605.10,320.29 605.50,321.80 605.90,321.38 606.30,319.81 606.70,319.33 607.10,318.00 607.47,318.03 607.83,316.69 608.20,316.57 608.57,316.45 608.93,315.77 609.30,315.30 609.70,319.00 610.10,322.80 610.53,322.80 610.97,322.80 611.40,322.80 611.80,323.17 612.20,323.27 612.60,322.82 613.00,323.10"/>
<polyline stroke="#000000" stroke-width="3.2" points="76.60,323.80 76.96,323.80 77.33,323.80 77.69,323.80 78.06,323.80 78.42,323.80 78.79,323.80 79.15,323.80 79.51,323.80 79.88,323.80 80.24,323.80 80.61,323.80 80.97,323.80 81.34,323.80 81.70,323.80 82.08,322.80 82.45,321.30 82.83,319.10 83.20,317.50 83.60,315.66 84.00,314.01 84.40,313.00 84.77,312.90 85.14,312.31 85.51,312.01 85.89,312.63 86.26,312.49 86.63,312.56 87.00,312.20 87.37,311.16 87.73,310.94 88.10,310.27 88.47,308.99 88.83,309.28 89.20,308.40 89.58,308.28 89.97,308.94 90.35,307.69 90.73,307.27 91.12,307.62 91.50,306.80 91.88,306.91 92.25,307.26 92.62,306.71 93.00,307.00 93.38,307.39 93.75,307.26 94.12,307.03 94.50,307.00 94.88,306.74 95.25,307.65 95.62,307.71 96.00,308.22 96.38,308.22 96.75,308.84 97.12,308.55 97.50,308.80 97.88,309.23 98.25,309.78 98.62,309.32 99.00,309.97 99.38,310.26 99.75,311.72 100.12,311.12 100.50,311.50 100.87,312.66 101.23,313.51 101.60,313.97 101.97,314.27 102.33,316.27 102.70,316.70 103.08,316.89 103.45,317.77 103.83,317.24 104.20,318.20 104.58,317.39 104.97,317.53 105.35,316.99 105.73,315.15 106.12,314.52 106.50,314.50 106.87,314.10 107.23,314.06 107.60,313.42 107.97,313.10 108.33,312.14 108.70,312.20 109.07,312.34 109.43,312.46 109.80,311.64 110.17,311.07 110.53,311.25 110.90,311.81 111.27,310.56 111.63,311.18 112.00,311.10 112.37,310.61 112.74,310.96 113.11,310.87 113.48,310.95 113.85,311.58 114.22,311.05 114.59,311.42 114.96,310.72 115.33,310.52 115.70,310.70 116.06,310.70 116.42,310.70 116.78,310.70 117.14,310.70 117.50,310.70 117.86,310.70 118.22,310.70 118.58,310.70 118.94,310.70 119.30,310.70 119.66,310.70 120.02,310.70 120.38,310.70 120.74,310.70 121.10,310.70 121.45,310.70 121.81,310.70 122.16,310.70 122.51,310.70 122.87,310.70 123.22,310.70 123.57,310.70 123.93,310.70 124.28,310.70 124.63,310.70 124.99,310.70 125.34,310.70 125.69,310.70 126.05,310.70 126.40,310.70 126.76,310.46 127.11,308.60 127.47,309.45 127.82,309.13 128.18,308.09 128.53,308.44 128.89,307.57 129.24,306.30 129.60,307.00 129.97,306.78 130.34,306.32 130.71,306.40 131.09,306.45 131.46,306.96 131.83,306.32 132.20,306.14 132.57,306.20 132.94,305.09 133.31,306.34 133.69,305.18 134.06,305.74 134.43,304.91 134.80,305.30 135.17,304.92 135.54,305.24 135.91,306.34 136.28,305.86 136.65,305.34 137.02,305.54 137.38,305.21 137.75,305.78 138.12,305.60 138.49,306.24 138.86,305.37 139.23,305.89 139.60,306.10 139.96,305.81 140.31,305.95 140.67,306.69 141.02,306.51 141.38,306.81 141.73,307.17 142.09,307.24 142.44,306.19 142.80,306.90 143.16,307.23 143.51,306.29 143.87,307.14 144.22,308.12 144.58,307.26 144.93,307.27 145.29,307.60 145.64,307.62 146.00,307.70 146.43,308.98 146.87,309.89 147.30,311.50 147.69,311.56 148.07,311.04 148.46,310.12 148.84,309.93 149.23,309.65 149.61,309.39 150.00,308.50 150.36,308.50 150.73,308.50 151.09,308.50 151.45,308.50 151.82,308.50 152.18,308.50 152.55,308.50 152.91,308.50 153.27,308.50 153.64,308.50 154.00,308.50 154.36,308.65 154.73,308.76 155.09,308.30 155.45,307.91 155.82,308.14 156.18,308.79 156.55,308.75 156.91,308.35 157.27,308.00 157.64,308.37 158.00,308.20 158.36,308.98 158.73,308.86 159.09,307.97 159.45,308.29 159.82,307.68 160.18,307.85 160.55,308.48 160.91,308.43 161.27,308.88 161.64,309.04 162.00,308.50 162.43,307.88 162.85,307.09 163.27,305.25 163.70,304.50 164.10,302.37 164.50,301.48 164.90,300.83 165.30,298.00 165.66,297.90 166.01,296.97 166.37,297.34 166.72,297.62 167.08,296.26 167.43,296.83 167.79,295.94 168.14,296.53 168.50,295.70 168.86,296.14 169.21,296.01 169.57,296.87 169.92,295.87 170.28,295.84 170.63,297.07 170.99,295.93 171.34,297.40 171.70,296.50 172.10,297.42 172.50,297.90 172.90,299.30 173.30,300.29 173.70,301.26 174.10,302.10 174.50,301.81 174.90,302.19 175.30,300.46 175.70,301.30 176.10,300.12 176.50,299.32 176.90,299.32 177.30,296.67 177.70,296.48 178.10,295.70 178.50,294.22 178.90,293.47 179.30,293.09 179.70,292.02 180.10,291.51 180.50,289.90 180.86,289.30 181.21,289.36 181.57,289.44 181.93,288.99 182.29,288.11 182.64,288.44 183.00,287.60 183.35,287.60 183.71,287.60 184.06,287.60 184.41,287.60 184.76,287.60 185.12,287.60 185.47,287.60 185.82,287.60 186.18,287.60 186.53,287.60 186.88,287.60 187.24,287.60 187.59,287.60 187.94,287.60 188.29,287.60 188.65,287.60 189.00,287.60 189.39,286.30 189.78,286.64 190.16,285.01 190.55,284.00 190.94,283.28 191.32,282.66 191.71,282.17 192.10,280.50 192.49,280.19 192.88,279.83 193.26,280.01 193.65,279.11 194.04,278.49 194.42,279.38 194.81,278.58 195.20,278.50 195.56,278.97 195.93,277.97 196.29,277.09 196.65,278.48 197.02,278.39 197.38,279.00 197.75,278.48 198.11,278.35 198.47,278.44 198.84,277.97 199.20,278.10 199.59,277.92 199.97,277.07 200.36,277.70 200.75,276.89 201.14,276.84 201.53,277.14 201.91,277.02 202.30,276.40 202.70,276.37 203.10,278.14 203.50,277.39 203.90,278.46 204.30,278.50 204.69,278.80 205.08,278.35 205.46,278.20 205.85,278.81 206.24,278.28 206.62,277.95 207.01,276.80 207.40,277.50 207.76,277.06 208.13,277.82 208.49,277.29 208.85,276.67 209.22,276.71 209.58,276.76 209.95,277.11 210.31,276.87 210.67,277.05 211.04,276.13 211.40,276.40 211.79,277.23 212.18,276.95 212.56,277.43 212.95,278.73 213.34,278.37 213.72,278.66 214.11,279.02 214.50,279.50 214.88,279.58 215.25,280.70 215.62,280.87 216.00,280.82 216.38,280.83 216.75,281.47 217.12,281.22 217.50,281.50 217.92,280.60 218.34,279.48 218.76,278.24 219.18,277.84 219.60,276.00 219.96,276.00 220.32,276.00 220.68,276.00 221.04,276.00 221.39,276.00 221.75,276.00 222.11,276.00 222.47,276.00 222.83,276.00 223.19,276.00 223.55,276.00 223.91,276.00 224.26,276.00 224.62,276.00 224.98,276.00 225.34,276.00 225.70,276.00 226.05,276.00 226.40,276.00 226.76,276.00 227.11,276.00 227.46,276.00 227.81,276.00 228.17,276.00 228.52,276.00 228.87,276.00 229.22,276.00 229.57,276.00 229.93,276.00 230.28,276.00 230.63,276.00 230.98,276.00 231.33,276.00 231.69,276.00 232.04,276.00 232.39,276.00 232.74,276.00 233.10,276.00 233.45,276.00 233.80,276.00 234.17,277.02 234.55,277.05 234.92,275.82 235.29,277.74 235.66,277.45 236.04,277.16 236.41,277.58 236.78,278.33 237.15,278.57 237.53,278.66 237.90,278.50 238.28,278.94 238.65,279.27 239.03,280.00 239.40,279.96 239.78,279.97 240.15,280.47 240.53,281.06 240.90,281.50 241.32,280.23 241.74,279.68 242.16,276.62 242.58,276.03 243.00,274.40 243.37,273.46 243.73,272.74 244.10,272.31 244.47,271.36 244.83,269.83 245.20,269.00 245.57,269.10 245.95,269.09 246.32,270.02 246.70,270.40 247.07,271.71 247.45,271.78 247.82,272.97 248.20,273.40 248.58,273.22 248.97,272.58 249.35,272.39 249.73,271.35 250.12,270.53 250.50,270.40 250.87,269.39 251.23,269.85 251.60,268.79 251.97,268.33 252.33,268.36 252.70,267.50 253.08,266.51 253.47,267.03 253.85,265.90 254.23,264.73 254.62,264.05 255.00,263.70 255.38,263.70 255.75,263.70 256.12,263.70 256.50,263.70 256.88,263.70 257.25,263.70 257.62,263.70 258.00,263.70 258.37,264.07 258.73,262.93 259.10,263.06 259.47,263.24 259.83,263.21 260.20,263.00 260.58,262.26 260.97,261.67 261.35,260.59 261.73,259.95 262.12,259.82 262.50,258.50 262.87,258.04 263.23,256.80 263.60,257.02 263.97,254.60 264.33,254.79 264.70,254.00 265.08,253.30 265.47,252.44 265.85,251.05 266.23,249.83 266.62,249.26 267.00,248.00 267.38,246.79 267.75,245.96 268.12,243.34 268.50,243.50 268.88,242.17 269.25,240.14 269.62,239.42 270.00,237.50 270.50,236.34 271.00,234.50 271.40,236.33 271.80,237.32 272.20,239.00 272.57,240.70 272.95,241.85 273.32,243.60 273.70,245.00 274.07,246.19 274.45,247.11 274.82,249.64 275.20,250.00 275.60,253.09 276.00,254.61 276.40,258.30 276.78,260.38 277.16,261.03 277.54,263.24 277.92,264.76 278.30,266.70 278.70,268.68 279.10,271.25 279.50,273.21 279.90,274.93 280.30,277.80 281.00,289.00 281.50,300.50 282.20,295.00 282.80,299.00 283.30,291.50 283.90,294.00 284.40,281.00 285.00,271.00 285.70,271.30 286.20,273.15 286.70,275.00 287.06,275.13 287.42,275.73 287.78,274.71 288.14,274.33 288.50,274.66 288.86,275.09 289.22,274.37 289.58,274.41 289.94,274.95 290.30,274.66 290.66,274.73 291.02,274.32 291.38,274.19 291.74,274.39 292.10,274.50 292.46,274.50 292.81,274.50 293.17,274.50 293.52,274.50 293.88,274.50 294.23,274.50 294.59,274.50 294.94,274.50 295.30,274.50 295.66,274.50 296.01,274.50 296.37,274.50 296.72,274.50 297.08,274.50 297.43,274.50 297.79,274.50 298.14,274.50 298.50,274.50 298.87,274.47 299.23,274.43 299.60,274.82 299.97,274.91 300.33,274.95 300.70,274.97 301.07,274.39 301.43,274.33 301.80,275.24 302.17,274.92 302.53,275.01 302.90,275.00 303.32,271.90 303.75,269.75 304.18,266.99 304.60,264.70 305.03,263.36 305.45,262.52 305.88,261.18 306.30,260.90 306.73,261.24 307.15,262.02 307.57,261.48 308.00,262.10 308.43,261.84 308.85,261.01 309.27,261.50 309.70,260.90 310.07,261.91 310.44,260.69 310.81,261.31 311.19,262.23 311.56,261.92 311.93,261.98 312.30,262.10 312.67,261.68 313.04,263.03 313.41,264.01 313.79,264.75 314.16,264.89 314.53,264.84 314.90,265.60 315.26,265.60 315.62,265.60 315.98,265.60 316.35,265.60 316.71,265.60 317.07,265.60 317.43,265.60 317.79,265.60 318.15,265.60 318.52,265.60 318.88,265.60 319.24,265.60 319.60,265.60 319.96,265.60 320.32,265.60 320.68,265.60 321.05,265.60 321.41,265.60 321.77,265.60 322.13,265.60 322.49,265.60 322.85,265.60 323.22,265.60 323.58,265.60 323.94,265.60 324.30,265.60 324.67,264.92 325.04,264.04 325.41,264.00 325.79,264.62 326.16,263.69 326.53,262.77 326.90,263.00 327.32,263.17 327.75,261.40 328.18,262.29 328.60,261.30 329.03,260.08 329.45,259.30 329.88,258.38 330.30,257.00 330.73,255.84 331.15,255.02 331.57,253.18 332.00,251.90 332.43,250.79 332.87,249.67 333.30,249.00 333.70,249.31 334.10,250.61 334.50,252.32 334.90,253.21 335.30,253.80 335.65,254.45 336.01,255.07 336.36,254.18 336.72,254.11 337.07,253.31 337.43,253.82 337.78,254.93 338.13,254.21 338.49,253.93 338.84,254.15 339.20,253.18 339.55,253.67 339.90,253.48 340.26,253.13 340.61,254.46 340.97,254.57 341.32,254.07 341.68,254.33 342.03,253.74 342.38,254.42 342.74,254.58 343.09,254.95 343.45,254.98 343.80,254.30 344.20,255.04 344.60,255.29 345.00,255.50 345.40,256.40 345.79,254.90 346.17,254.22 346.56,252.97 346.94,251.49 347.33,251.01 347.71,249.32 348.10,247.80 348.53,246.98 348.95,246.06 349.38,245.36 349.80,244.50 350.22,243.43 350.64,242.78 351.06,242.74 351.48,241.68 351.90,241.30 352.26,241.05 352.61,241.59 352.97,240.83 353.33,241.38 353.69,240.65 354.04,241.21 354.40,240.40 354.77,240.25 355.14,238.89 355.51,239.89 355.89,238.88 356.26,237.73 356.63,238.31 357.00,237.90 357.43,237.74 357.85,236.87 358.27,236.95 358.70,237.00 359.07,237.73 359.44,238.61 359.81,238.97 360.19,239.49 360.56,239.93 360.93,238.80 361.30,240.40 361.73,238.57 362.15,237.48 362.57,234.69 363.00,234.40 363.43,233.47 363.85,232.25 364.27,230.23 364.70,229.30 365.12,227.83 365.55,226.28 365.97,225.39 366.40,224.10 366.77,223.35 367.14,222.64 367.51,221.45 367.89,221.36 368.26,220.30 368.63,220.16 369.00,219.00 369.43,218.49 369.85,217.03 370.27,216.40 370.70,216.40 371.12,217.08 371.55,217.48 371.97,218.56 372.40,219.00 372.76,219.00 373.12,219.00 373.47,219.00 373.83,219.00 374.19,219.00 374.55,219.00 374.91,219.00 375.27,219.00 375.62,219.00 375.98,219.00 376.34,219.00 376.70,219.00 377.06,219.00 377.42,219.00 377.77,219.00 378.13,219.00 378.49,219.00 378.85,219.00 379.21,219.00 379.57,219.00 379.93,219.00 380.28,219.00 380.64,219.00 381.00,219.00 381.37,219.12 381.74,218.52 382.11,217.51 382.49,217.49 382.86,218.04 383.23,217.07 383.60,217.30 383.96,217.30 384.31,217.30 384.67,217.30 385.03,217.30 385.39,217.30 385.74,217.30 386.10,217.30 386.46,217.12 386.82,215.90 387.18,215.49 387.54,214.18 387.90,213.90 388.26,213.36 388.61,211.57 388.97,212.31 389.33,212.16 389.69,211.00 390.04,210.52 390.40,210.40 390.82,209.95 391.25,209.58 391.68,208.76 392.10,208.70 392.46,210.54 392.82,211.04 393.18,213.82 393.54,214.23 393.90,216.40 394.32,214.95 394.75,214.85 395.18,212.73 395.60,212.10 396.03,210.51 396.45,210.43 396.88,209.14 397.30,208.70 397.67,208.08 398.04,208.16 398.41,208.02 398.79,207.80 399.16,207.67 399.53,208.74 399.90,207.90 400.26,207.53 400.61,208.19 400.97,207.05 401.33,207.86 401.69,206.98 402.04,207.27 402.40,207.40 402.80,207.05 403.20,205.89 403.60,205.50 403.97,205.50 404.35,205.50 404.72,205.50 405.09,205.50 405.46,205.50 405.84,205.50 406.21,205.50 406.58,205.50 406.95,205.50 407.33,205.50 407.70,205.50 408.05,205.50 408.41,205.50 408.76,205.50 409.12,205.50 409.47,205.50 409.83,205.50 410.18,205.50 410.53,205.50 410.89,205.50 411.24,205.50 411.60,205.50 411.95,205.50 412.31,205.50 412.66,205.50 413.01,205.50 413.37,205.50 413.72,205.50 414.08,205.50 414.43,205.50 414.78,205.50 415.14,205.50 415.49,205.50 415.85,205.50 416.20,205.50 416.56,205.50 416.91,205.50 417.26,205.50 417.62,205.50 417.97,205.50 418.33,205.50 418.68,205.50 419.04,205.50 419.39,205.50 419.74,205.50 420.10,205.50 420.45,205.50 420.81,205.50 421.16,205.50 421.52,205.50 421.87,205.50 422.22,205.50 422.58,205.50 422.93,205.50 423.29,205.50 423.64,205.50 423.99,205.50 424.35,205.50 424.70,205.50 425.06,205.50 425.41,205.50 425.77,205.50 426.12,205.50 426.47,205.50 426.83,205.50 427.18,205.50 427.54,205.50 427.89,205.50 428.25,205.50 428.60,205.50 429.00,203.74 429.40,203.50 429.80,202.80 430.20,202.00 430.63,201.52 431.07,200.08 431.50,199.80 431.90,199.29 432.30,199.08 432.70,197.93 433.10,198.30 433.48,198.80 433.85,199.03 434.23,200.15 434.60,200.50 435.10,201.00 435.60,201.60 435.96,201.59 436.31,201.59 436.67,201.58 437.03,201.57 437.39,201.56 437.74,201.56 438.10,201.55 438.46,201.54 438.81,201.54 439.17,201.53 439.53,201.52 439.89,201.51 440.24,201.51 440.60,201.50 440.96,201.49 441.31,201.49 441.67,201.48 442.03,201.47 442.39,201.46 442.74,201.46 443.10,201.45 443.46,201.44 443.81,201.44 444.17,201.43 444.53,201.42 444.89,201.41 445.24,201.41 445.60,201.40 445.98,201.04 446.37,199.75 446.75,200.50 447.13,200.10 447.52,199.56 447.90,199.70 448.27,199.94 448.63,200.06 449.00,201.18 449.37,201.86 449.73,202.30 450.10,202.50 450.47,202.85 450.83,204.42 451.20,204.63 451.57,204.41 451.93,205.35 452.30,206.00 452.70,204.30 453.10,204.01 453.50,203.10 453.87,202.59 454.23,202.00 454.60,200.60 454.96,200.60 455.31,200.60 455.67,200.60 456.03,200.60 456.38,200.60 456.74,200.60 457.10,200.60 457.45,200.60 457.81,200.60 458.17,200.60 458.52,200.60 458.88,200.60 459.24,200.60 459.59,200.60 459.95,200.60 460.31,200.60 460.66,200.60 461.02,200.60 461.38,200.60 461.74,200.60 462.09,200.60 462.45,200.60 462.81,200.60 463.16,200.60 463.52,200.60 463.88,200.60 464.23,200.60 464.59,200.60 464.95,200.60 465.30,200.60 465.66,200.60 466.02,200.60 466.37,200.60 466.73,200.60 467.09,200.60 467.44,200.60 467.80,200.60 468.25,201.26 468.70,202.30 469.08,199.32 469.46,197.86 469.84,196.37 470.22,193.64 470.60,191.40 471.03,190.81 471.47,189.44 471.90,187.90 472.28,188.62 472.66,188.21 473.04,187.66 473.42,188.18 473.80,188.00 474.17,189.64 474.53,188.77 474.90,188.66 475.27,190.95 475.63,190.68 476.00,191.00 476.38,189.97 476.77,189.23 477.15,188.06 477.53,188.32 477.92,187.31 478.30,186.50 478.67,185.85 479.03,185.58 479.40,185.21 479.77,185.51 480.13,184.58 480.50,184.30 480.88,183.97 481.25,182.02 481.62,181.17 482.00,180.50 482.38,179.16 482.75,178.01 483.12,177.08 483.50,176.00 483.88,176.09 484.25,175.79 484.62,174.39 485.00,174.50 485.38,173.95 485.75,172.29 486.12,171.84 486.50,170.00 486.88,168.70 487.25,167.17 487.62,166.68 488.00,165.10 488.35,165.10 488.71,165.10 489.06,165.10 489.42,165.10 489.77,165.10 490.13,165.10 490.48,165.10 490.84,165.10 491.19,165.10 491.55,165.10 491.90,165.10 492.26,165.10 492.61,165.10 492.97,165.10 493.32,165.10 493.68,165.10 494.03,165.10 494.39,165.10 494.74,165.10 495.10,165.10 495.45,165.10 495.80,165.10 496.16,165.10 496.51,165.10 496.87,165.10 497.22,165.10 497.58,165.10 497.93,165.10 498.29,165.10 498.64,165.10 499.00,165.10 499.35,165.10 499.71,165.10 500.06,165.10 500.42,165.10 500.77,165.10 501.13,165.10 501.48,165.10 501.84,165.10 502.19,165.10 502.55,165.10 502.90,165.10 503.33,166.01 503.77,166.16 504.20,167.00 504.56,166.61 504.92,166.26 505.28,165.94 505.64,164.63 506.00,165.00 506.38,164.06 506.75,164.22 507.12,163.92 507.50,163.16 507.88,162.21 508.25,163.20 508.62,162.06 509.00,161.80 509.38,160.95 509.77,161.75 510.15,161.16 510.53,160.73 510.92,160.26 511.30,159.50 511.67,159.50 512.03,159.50 512.40,159.50 512.77,159.50 513.13,159.50 513.50,159.50 513.86,160.06 514.22,159.66 514.58,160.41 514.94,160.86 515.30,161.00 515.67,160.53 516.05,159.71 516.42,158.30 516.80,158.00 517.17,156.80 517.55,156.00 517.92,155.14 518.30,154.30 518.67,153.16 519.05,151.98 519.42,151.50 519.80,151.30 520.17,151.06 520.53,150.53 520.90,150.41 521.27,148.92 521.63,149.20 522.00,149.00 522.38,149.65 522.77,148.62 523.15,149.26 523.53,149.25 523.92,150.80 524.30,150.50 524.67,149.01 525.05,147.24 525.42,146.07 525.80,144.50 526.17,143.96 526.53,143.91 526.90,143.53 527.27,142.91 527.63,142.15 528.00,141.50 528.38,141.09 528.75,140.37 529.12,139.77 529.50,138.50 529.86,136.77 530.22,136.86 530.58,135.84 530.94,134.97 531.30,134.00 531.73,132.85 532.17,131.90 532.60,130.90 533.00,131.55 533.40,131.84 533.80,132.23 534.20,132.60 534.56,132.61 534.92,132.62 535.28,132.63 535.65,132.65 536.01,132.66 536.37,132.67 536.73,132.68 537.09,132.69 537.45,132.70 537.82,132.72 538.18,132.73 538.54,132.74 538.90,132.75 539.26,132.76 539.62,132.77 539.98,132.78 540.35,132.80 540.71,132.81 541.07,132.82 541.43,132.83 541.79,132.84 542.15,132.85 542.52,132.87 542.88,132.88 543.24,132.89 543.60,132.90 544.03,136.15 544.47,139.80 544.90,144.10 545.37,142.40 545.83,140.56 546.30,140.00 546.66,138.87 547.02,137.82 547.38,136.49 547.74,135.53 548.10,135.50 548.48,134.99 548.86,134.64 549.24,135.58 549.62,134.69 550.00,134.00 550.40,133.46 550.80,133.41 551.20,132.99 551.60,132.91 552.00,132.93 552.40,132.90 552.76,132.98 553.12,132.82 553.48,133.57 553.84,133.59 554.20,134.28 554.56,132.91 554.92,133.90 555.28,133.53 555.64,133.08 556.00,133.90 556.40,133.88 556.80,133.40 557.20,134.25 557.60,135.61 558.00,134.50 558.36,134.88 558.72,134.90 559.08,134.41 559.44,132.96 559.80,133.64 560.16,133.30 560.52,133.23 560.88,132.35 561.24,131.72 561.60,132.40 562.00,133.55 562.40,133.34 562.80,133.14 563.20,132.98 563.60,133.48 564.00,133.60 564.40,133.24 564.80,134.43 565.20,134.27 565.60,134.33 566.00,134.60 566.40,134.61 566.80,134.97 567.20,135.26 567.60,135.22 568.00,135.60 568.40,133.91 568.80,131.44 569.20,129.18 569.60,127.10 569.99,125.94 570.37,126.11 570.76,125.37 571.14,124.32 571.53,122.41 571.91,122.31 572.30,121.70 572.66,121.50 573.01,120.43 573.37,120.34 573.72,118.92 574.08,118.84 574.43,118.07 574.79,116.09 575.14,116.36 575.50,115.90 575.87,115.53 576.23,115.08 576.60,114.70 576.97,115.55 577.33,114.51 577.70,114.30 578.06,114.30 578.41,114.30 578.77,114.30 579.12,114.30 579.48,114.30 579.83,114.30 580.19,114.30 580.54,114.30 580.90,114.30 581.26,114.23 581.61,112.85 581.97,112.10 582.32,112.40 582.68,112.37 583.03,111.44 583.39,111.58 583.74,111.28 584.10,110.50 584.45,109.80 584.80,109.47 585.15,108.67 585.50,108.99 585.85,108.80 586.20,107.50 586.59,107.48 586.97,106.79 587.36,106.45 587.74,106.40 588.13,106.69 588.51,105.70 588.90,105.80 589.25,106.60 589.60,105.52 589.95,106.20 590.30,106.93 590.65,107.27 591.00,106.60 591.39,106.65 591.77,107.41 592.16,108.42 592.54,108.04 592.93,106.76 593.31,108.10 593.70,108.20 594.10,108.51 594.50,106.16 594.90,106.34 595.30,104.23 595.70,105.13 596.10,103.28 596.50,102.90 596.85,103.22 597.21,103.22 597.56,101.51 597.92,102.07 598.27,102.82 598.63,101.94 598.98,102.57 599.34,102.11 599.69,103.10 600.05,102.22 600.40,102.40 600.78,102.40 601.16,102.40 601.54,102.40 601.92,102.40 602.30,102.40 602.68,102.40 603.06,102.40 603.44,102.40 603.82,102.40 604.20,102.40 604.55,102.03 604.91,102.78 605.26,103.09 605.62,102.51 605.97,102.75 606.33,102.89 606.68,102.50 607.04,102.23 607.39,103.05 607.75,102.70 608.10,102.90 608.50,101.97 608.90,102.65 609.30,102.15 609.70,101.70 610.10,100.98 610.50,101.00 611.00,98.50 611.50,96.20 611.95,93.57 612.40,90.40 612.80,89.88 613.20,88.56 613.60,88.20 614.30,87.40"/>
</g>
<g stroke="#5b5b5b" fill="none" stroke-linecap="square">
<line x1="75.4" y1="66.6" x2="75.4" y2="409.8" stroke-width="1.3"/>
<line x1="620.0" y1="66.6" x2="620.0" y2="409.8" stroke-width="1.4"/>
<line x1="75.4" y1="66.6" x2="620.0" y2="66.6" stroke-width="1.3"/>
<line x1="75.4" y1="409.8" x2="620.0" y2="409.8" stroke-width="1.8"/>
</g>
<g stroke="#222" stroke-width="1.2"><line x1="69.3" y1="77.40" x2="75.4" y2="77.40"/><line x1="69.3" y1="123.41" x2="75.4" y2="123.41"/><line x1="69.3" y1="169.42" x2="75.4" y2="169.42"/><line x1="69.3" y1="215.43" x2="75.4" y2="215.43"/><line x1="69.3" y1="261.44" x2="75.4" y2="261.44"/><line x1="69.3" y1="307.45" x2="75.4" y2="307.45"/><line x1="69.3" y1="353.46" x2="75.4" y2="353.46"/><line x1="69.3" y1="399.47" x2="75.4" y2="399.47"/></g>
<g stroke="#222" stroke-width="1.8"><line x1="84.90" y1="409.8" x2="84.90" y2="415.6"/><line x1="122.38" y1="409.8" x2="122.38" y2="415.6"/><line x1="159.86" y1="409.8" x2="159.86" y2="415.6"/><line x1="197.34" y1="409.8" x2="197.34" y2="415.6"/><line x1="234.82" y1="409.8" x2="234.82" y2="415.6"/><line x1="272.30" y1="409.8" x2="272.30" y2="415.6"/><line x1="309.78" y1="409.8" x2="309.78" y2="415.6"/><line x1="347.26" y1="409.8" x2="347.26" y2="415.6"/><line x1="384.74" y1="409.8" x2="384.74" y2="415.6"/><line x1="422.22" y1="409.8" x2="422.22" y2="415.6"/><line x1="459.70" y1="409.8" x2="459.70" y2="415.6"/><line x1="497.18" y1="409.8" x2="497.18" y2="415.6"/><line x1="534.66" y1="409.8" x2="534.66" y2="415.6"/><line x1="572.14" y1="409.8" x2="572.14" y2="415.6"/><line x1="609.62" y1="409.8" x2="609.62" y2="415.6"/></g>
<g font-size="15.7" fill="#111" stroke="#111" stroke-width="0.5"><text transform="translate(64.3,82.00) scale(0.895,1)" text-anchor="end">1638.4</text><text transform="translate(64.3,128.00) scale(0.895,1)" text-anchor="end">409.6</text><text transform="translate(64.3,174.00) scale(0.895,1)" text-anchor="end">102.4</text><text transform="translate(64.3,220.00) scale(0.895,1)" text-anchor="end">25.6</text><text transform="translate(64.3,266.00) scale(0.895,1)" text-anchor="end">6.4</text><text transform="translate(64.3,312.00) scale(0.895,1)" text-anchor="end">1.6</text><text transform="translate(64.3,358.00) scale(0.895,1)" text-anchor="end">0.4</text><text transform="translate(64.3,404.00) scale(0.895,1)" text-anchor="end">0.1</text></g>
<g font-size="15.8" fill="#111" stroke="#111" stroke-width="0.5"><text x="84.90" y="432" text-anchor="middle" textLength="30.5" lengthAdjust="spacingAndGlyphs">1880</text><text x="122.38" y="432" text-anchor="middle" textLength="30.5" lengthAdjust="spacingAndGlyphs">1890</text><text x="159.86" y="432" text-anchor="middle" textLength="30.5" lengthAdjust="spacingAndGlyphs">1900</text><text x="197.34" y="432" text-anchor="middle" textLength="30.5" lengthAdjust="spacingAndGlyphs">1910</text><text x="234.82" y="432" text-anchor="middle" textLength="30.5" lengthAdjust="spacingAndGlyphs">1920</text><text x="272.30" y="432" text-anchor="middle" textLength="30.5" lengthAdjust="spacingAndGlyphs">1930</text><text x="309.78" y="432" text-anchor="middle" textLength="30.5" lengthAdjust="spacingAndGlyphs">1940</text><text x="347.26" y="432" text-anchor="middle" textLength="30.5" lengthAdjust="spacingAndGlyphs">1950</text><text x="384.74" y="432" text-anchor="middle" textLength="30.5" lengthAdjust="spacingAndGlyphs">1960</text><text x="422.22" y="432" text-anchor="middle" textLength="30.5" lengthAdjust="spacingAndGlyphs">1970</text><text x="459.70" y="432" text-anchor="middle" textLength="30.5" lengthAdjust="spacingAndGlyphs">1980</text><text x="497.18" y="432" text-anchor="middle" textLength="30.5" lengthAdjust="spacingAndGlyphs">1990</text><text x="534.66" y="432" text-anchor="middle" textLength="30.5" lengthAdjust="spacingAndGlyphs">2000</text><text x="572.14" y="432" text-anchor="middle" textLength="30.5" lengthAdjust="spacingAndGlyphs">2010</text><text x="609.62" y="432" text-anchor="middle" textLength="30.5" lengthAdjust="spacingAndGlyphs">2020</text></g>
<text font-size="17.5" fill="#111" stroke="#111" stroke-width="0.4" text-anchor="middle" transform="translate(14.2,237.8) rotate(-90) scale(0.85,1)">%</text>
<g font-size="15.1" fill="#111" stroke="#111" stroke-width="0.7" font-weight="bold"><text id="src0" x="350.76" y="460" textLength="51.06" lengthAdjust="spacingAndGlyphs">Gavekal</text><text id="src1" x="407.59" y="460" textLength="138.21" lengthAdjust="spacingAndGlyphs">Research/Bloomberg,</text><text id="src2" x="549.93" y="460" textLength="38.33" lengthAdjust="spacingAndGlyphs">Shiller</text><text id="src3" x="593.18" y="460" textLength="28.66" lengthAdjust="spacingAndGlyphs">data</text></g>
</svg></body></html>
